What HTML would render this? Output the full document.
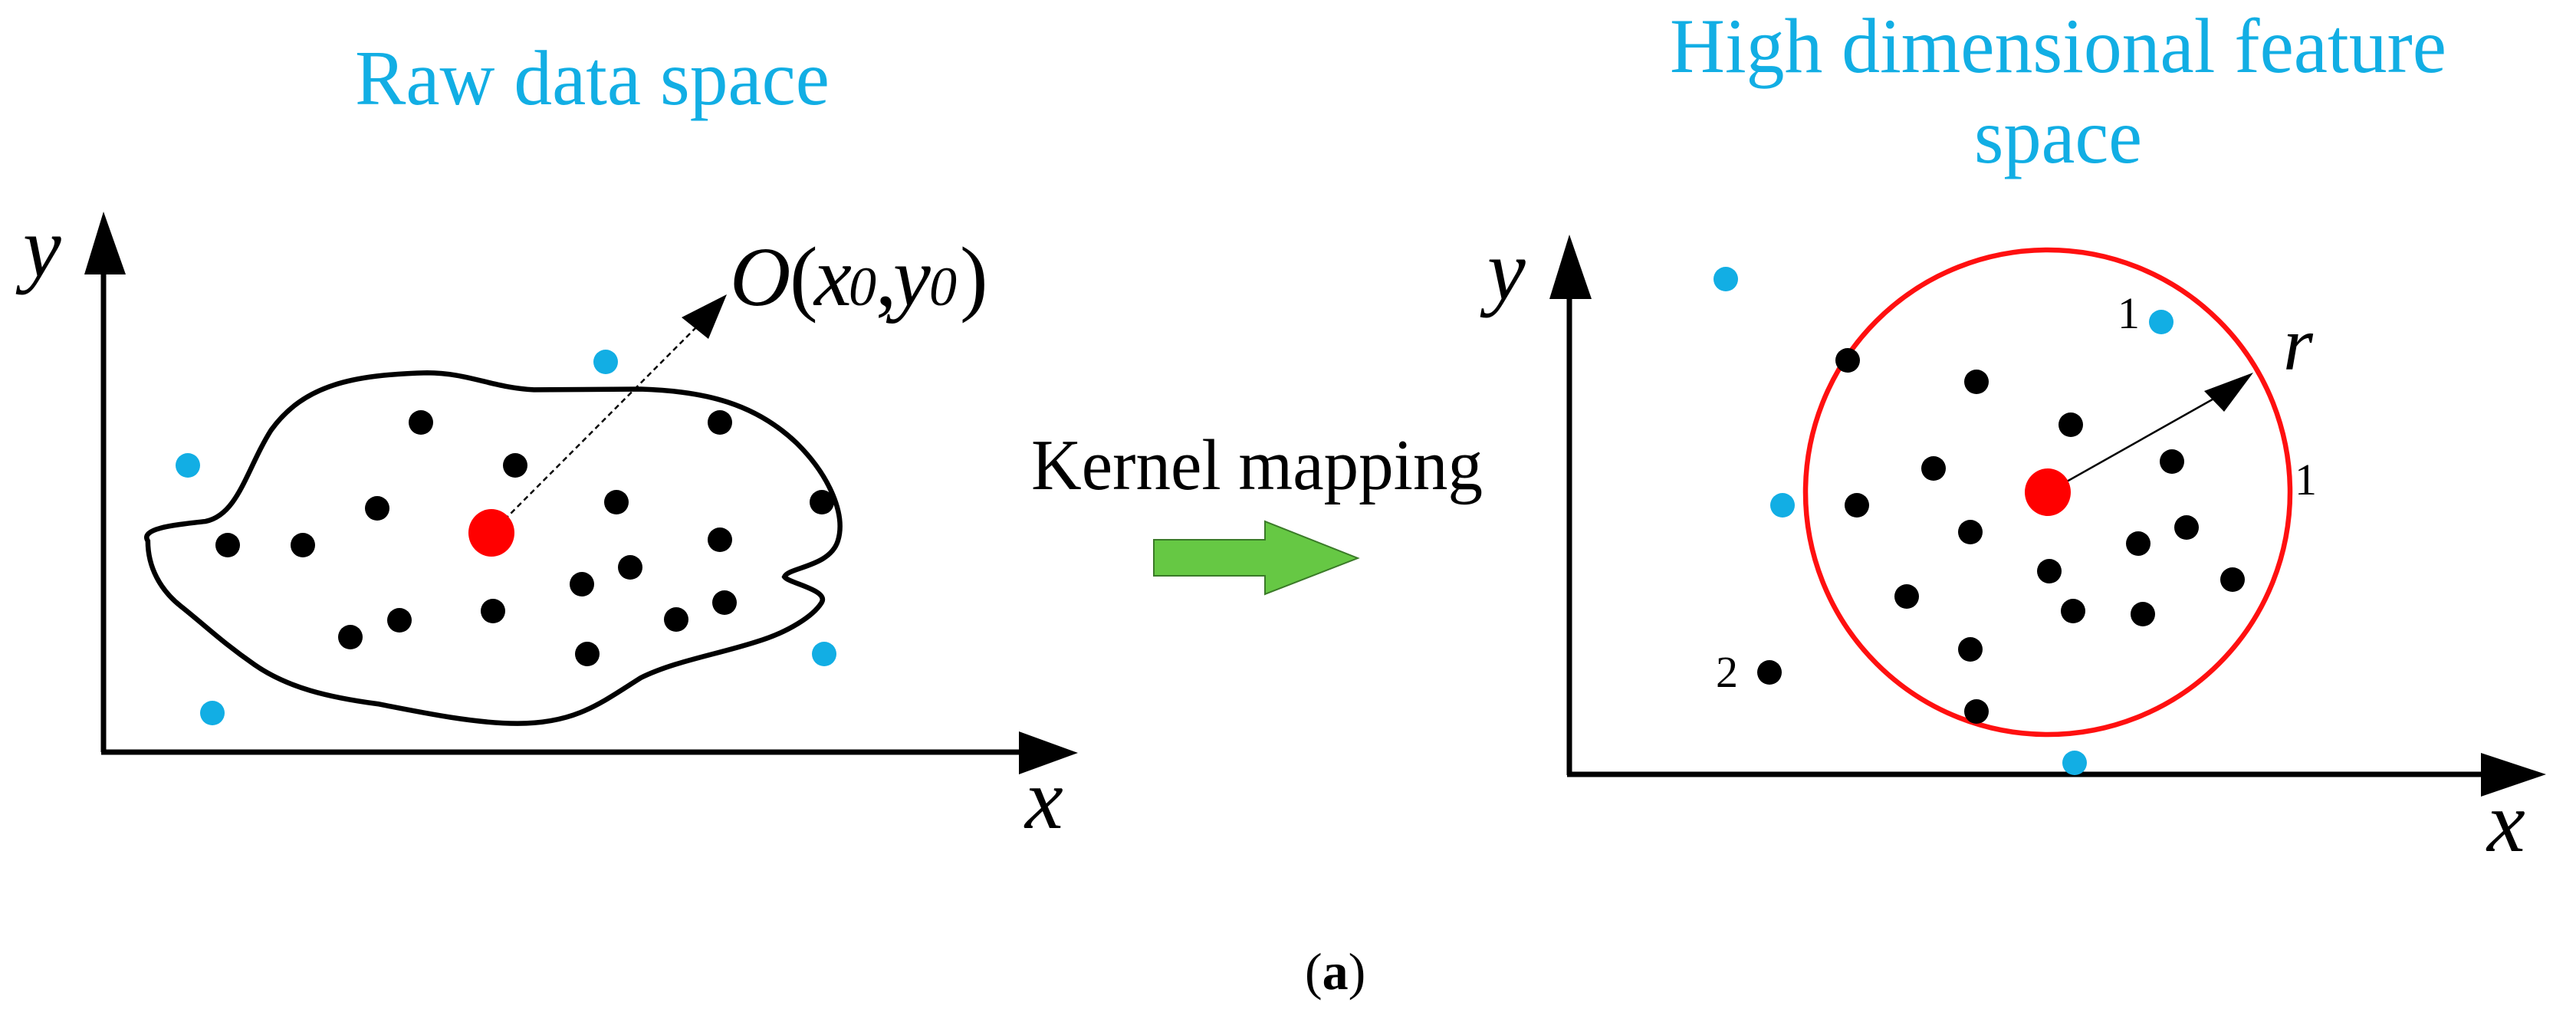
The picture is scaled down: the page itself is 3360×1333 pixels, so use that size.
<!DOCTYPE html>
<html><head><meta charset="utf-8"><style>
html,body{margin:0;padding:0;background:#fff;}
svg{display:block;}
text{font-family:"Liberation Serif",serif;}
</style></head><body>
<svg width="3360" height="1333" viewBox="0 0 3360 1333" xmlns="http://www.w3.org/2000/svg">
<rect width="3360" height="1333" fill="#fff"/>
<!-- Titles -->
<text x="463" y="136" font-size="102" fill="#12aee4" textLength="619" lengthAdjust="spacingAndGlyphs">Raw data space</text>
<text x="2178" y="94" font-size="102" fill="#12aee4" textLength="1013" lengthAdjust="spacingAndGlyphs">High dimensional feature</text>
<text x="2575" y="212" font-size="102" fill="#12aee4" textLength="219" lengthAdjust="spacingAndGlyphs">space</text>

<!-- Left axes -->
<line x1="135" y1="350" x2="135" y2="981" stroke="#000" stroke-width="7"/>
<line x1="132" y1="981" x2="1335" y2="981" stroke="#000" stroke-width="7"/>
<polygon points="135,276 110,358 164,358" fill="#000"/>
<polygon points="1406,982 1329,954 1329,1010" fill="#000"/>
<text x="30" y="360" font-size="112" font-style="italic">y</text>
<text x="1337" y="1080" font-size="112" font-style="italic">x</text>

<!-- Blob -->
<g transform="scale(1.0714,0.8501)">
<path d="M180,830 C170,810 215,805 250,800 C290,790 300,720 330,660 C370,590 430,575 520,572 C570,572 600,595 650,598 L780,597 C860,600 920,620 970,680 C1010,730 1030,790 1020,830 C1010,870 960,870 955,885 C960,895 1010,905 1000,925 C990,945 960,970 920,985 C870,1005 820,1015 780,1040 C730,1080 700,1110 630,1110 C580,1110 520,1095 460,1080 C400,1070 350,1055 310,1020 C270,985 250,960 220,930 C195,905 180,870 180,830 Z" fill="none" stroke="#000" stroke-width="6.5" vector-effect="non-scaling-stroke"/>
</g>

<!-- Dashed arrow -->
<line x1="641" y1="695" x2="915" y2="420" stroke="#000" stroke-width="2.5" stroke-dasharray="7,5"/>
<polygon points="948,384 889,414 924,442" fill="#000"/>
<text x="952" y="398" font-size="110" font-style="italic">O</text>
<text x="1030" y="398" font-size="110">(</text>
<text x="1062" y="398" font-size="110" font-style="italic">x</text>
<text x="1107" y="398" font-size="72" font-style="italic">0</text>
<text x="1142" y="398" font-size="110">,</text>
<text x="1165" y="398" font-size="110" font-style="italic">y</text>
<text x="1212" y="398" font-size="72" font-style="italic">0</text>
<text x="1252" y="398" font-size="110">)</text>

<!-- Left dots -->
<g fill="#000">
<circle cx="549" cy="551" r="16"/><circle cx="939" cy="551" r="16"/><circle cx="672" cy="607" r="16"/>
<circle cx="492" cy="663" r="16"/><circle cx="804" cy="655" r="16"/><circle cx="1072" cy="655" r="16"/>
<circle cx="297" cy="711" r="16"/><circle cx="395" cy="711" r="16"/><circle cx="939" cy="704" r="16"/>
<circle cx="822" cy="740" r="16"/><circle cx="759" cy="762" r="16"/><circle cx="643" cy="797" r="16"/>
<circle cx="945" cy="786" r="16"/><circle cx="521" cy="809" r="16"/><circle cx="457" cy="831" r="16"/>
<circle cx="882" cy="808" r="16"/><circle cx="766" cy="853" r="16"/>
</g>
<g fill="#12aee4">
<circle cx="790" cy="472" r="16"/><circle cx="245" cy="607" r="16"/><circle cx="1075" cy="853" r="16"/><circle cx="277" cy="930" r="16"/>
</g>
<ellipse cx="641" cy="695" rx="30" ry="31" fill="#ff0000"/>

<!-- Kernel mapping -->
<text x="1345" y="638" font-size="94" textLength="589" lengthAdjust="spacingAndGlyphs">Kernel mapping</text>
<polygon points="1505,704 1650,704 1650,680 1771,728 1650,775 1650,751 1505,751" fill="#66c844" stroke="#3a7a28" stroke-width="2"/>

<!-- Right axes -->
<line x1="2047" y1="380" x2="2047" y2="1011" stroke="#000" stroke-width="7"/>
<line x1="2044" y1="1010" x2="3245" y2="1010" stroke="#000" stroke-width="7"/>
<polygon points="2047,306 2021,390 2076,390" fill="#000"/>
<polygon points="3321,1010 3236,982 3236,1039" fill="#000"/>
<text x="1940" y="390" font-size="112" font-style="italic">y</text>
<text x="3244" y="1110" font-size="112" font-style="italic">x</text>

<!-- Circle -->
<circle cx="2671" cy="642" r="316" fill="none" stroke="#ff1010" stroke-width="6.5"/>

<g fill="#000">
<circle cx="2410" cy="470" r="16"/><circle cx="2578" cy="498" r="16"/><circle cx="2701" cy="554" r="16"/>
<circle cx="2522" cy="611" r="16"/><circle cx="2833" cy="602" r="16"/><circle cx="2422" cy="659" r="16"/>
<circle cx="2570" cy="694" r="16"/><circle cx="2852" cy="688" r="16"/><circle cx="2789" cy="709" r="16"/>
<circle cx="2673" cy="745" r="16"/><circle cx="2912" cy="756" r="16"/><circle cx="2487" cy="778" r="16"/>
<circle cx="2704" cy="797" r="16"/><circle cx="2795" cy="801" r="16"/><circle cx="2570" cy="847" r="16"/>
<circle cx="2308" cy="877" r="16"/><circle cx="2578" cy="928" r="16"/>
</g>
<g fill="#12aee4">
<circle cx="2251" cy="364" r="16"/><circle cx="2819" cy="420" r="16"/><circle cx="2325" cy="659" r="16"/><circle cx="2706" cy="995" r="16"/>
</g>
<line x1="2671" y1="642" x2="2900" y2="513" stroke="#000" stroke-width="2.5"/>
<polygon points="2939,486 2875,510 2901,537" fill="#000"/>
<ellipse cx="2671" cy="642" rx="30" ry="31" fill="#ff0000"/>

<text x="2978" y="482" font-size="100" font-style="italic">r</text>
<text x="2762" y="428" font-size="58">1</text>
<text x="2993" y="645" font-size="58">1</text>
<text x="2238" y="896" font-size="58">2</text>

<!-- (a) -->
<text x="1702" y="1290" font-size="68">(<tspan font-weight="bold">a</tspan>)</text>
</svg>
</body></html>
